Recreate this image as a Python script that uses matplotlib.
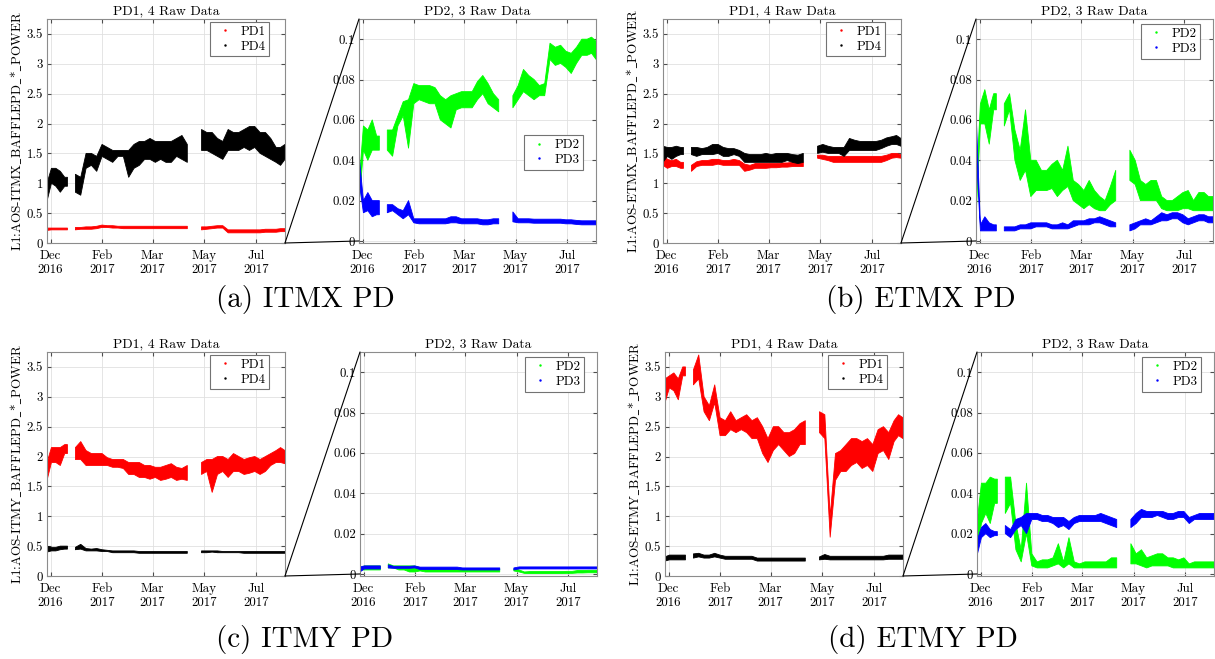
import numpy as np
import matplotlib
matplotlib.use("Agg")
import matplotlib.pyplot as plt
from matplotlib.lines import Line2D
from matplotlib.patches import ConnectionPatch
from matplotlib.ticker import FormatStrFormatter

plt.rcParams.update({
    'font.family': 'serif',
    'font.serif': ['cmr10'],
    'mathtext.fontset': 'cm',
    'axes.formatter.use_mathtext': True,
    'axes.unicode_minus': False,
})

nan = np.nan

# ---------- time grid (days since 30 Nov 2016), nan rows mark data gaps ----------
days = [0, 5, 10, 15, 20, 23, 27,
        32, 38, 44, 50, 56, 62, 68, 74, 80, 86, 92, 98, 104, 110, 116, 122, 128, 134, 140, 146, 152, 158,
        166,
        174, 180, 186, 192, 198, 204, 210, 216, 222, 228, 234, 240, 246, 252, 258, 263, 268]

tick_days = [4, 62, 119, 177, 235]
tick_labels = ['Dec\n2016', 'Feb\n2017', 'Mar\n2017', 'May\n2017', 'Jul\n2017']

# ---------- ITMX ----------
itmx_pd1_lo = [0.21, 0.22, 0.22, 0.22, 0.22, 0.22, nan,
               0.22, 0.23, 0.23, 0.23, 0.24, 0.26, 0.26, 0.25, 0.25, 0.24, 0.24, 0.24, 0.24, 0.24, 0.24, 0.24, 0.24, 0.24, 0.24, 0.24, 0.24, 0.24,
               nan,
               0.22, 0.23, 0.24, 0.25, 0.25, 0.17, 0.17, 0.17, 0.17, 0.17, 0.17, 0.17, 0.18, 0.18, 0.18, 0.19, 0.19]
itmx_pd1_hi = [0.25, 0.25, 0.25, 0.25, 0.25, 0.25, nan,
               0.26, 0.26, 0.27, 0.27, 0.28, 0.30, 0.29, 0.29, 0.28, 0.28, 0.28, 0.28, 0.28, 0.28, 0.28, 0.28, 0.28, 0.28, 0.28, 0.28, 0.28, 0.28,
               nan,
               0.27, 0.27, 0.28, 0.29, 0.29, 0.22, 0.22, 0.22, 0.22, 0.22, 0.22, 0.22, 0.23, 0.23, 0.23, 0.24, 0.24]
itmx_pd4_lo = [0.7, 1.0, 0.95, 0.85, 0.95, 0.95, nan,
               0.85, 0.8, 1.25, 1.3, 1.2, 1.45, 1.4, 1.35, 1.45, 1.45, 1.1, 1.25, 1.3, 1.4, 1.4, 1.35, 1.4, 1.35, 1.35, 1.45, 1.4, 1.35,
               nan,
               1.55, 1.55, 1.5, 1.45, 1.4, 1.55, 1.55, 1.55, 1.6, 1.55, 1.6, 1.5, 1.45, 1.4, 1.35, 1.3, 1.4]
itmx_pd4_hi = [1.0, 1.25, 1.25, 1.2, 1.1, 1.1, nan,
               1.15, 1.1, 1.5, 1.5, 1.45, 1.65, 1.6, 1.55, 1.55, 1.55, 1.55, 1.65, 1.7, 1.7, 1.75, 1.7, 1.7, 1.7, 1.7, 1.75, 1.8, 1.65,
               nan,
               1.9, 1.85, 1.85, 1.75, 1.7, 1.9, 1.85, 1.85, 1.9, 1.95, 1.95, 1.85, 1.85, 1.75, 1.6, 1.6, 1.65]
itmx_pd2_lo = [0.017, 0.045, 0.04, 0.045, 0.045, 0.045, nan,
               0.045, 0.042, 0.057, 0.062, 0.046, 0.068, 0.07, 0.069, 0.068, 0.068, 0.06, 0.058, 0.056, 0.065, 0.066, 0.066, 0.066, 0.07, 0.073, 0.068, 0.066, 0.064,
               nan,
               0.066, 0.07, 0.074, 0.072, 0.07, 0.072, 0.072, 0.09, 0.087, 0.088, 0.086, 0.083, 0.088, 0.092, 0.092, 0.093, 0.09]
itmx_pd2_hi = [0.028, 0.057, 0.055, 0.06, 0.052, 0.052, nan,
               0.055, 0.055, 0.062, 0.069, 0.07, 0.078, 0.077, 0.077, 0.077, 0.076, 0.072, 0.07, 0.072, 0.073, 0.074, 0.074, 0.074, 0.079, 0.082, 0.078, 0.073, 0.07,
               nan,
               0.072, 0.077, 0.085, 0.082, 0.08, 0.077, 0.078, 0.098, 0.096, 0.097, 0.094, 0.093, 0.096, 0.1, 0.1, 0.101, 0.099]
itmx_pd3_lo = [0.03, 0.014, 0.015, 0.012, 0.013, 0.013, nan,
               0.014, 0.015, 0.013, 0.011, 0.013, 0.009, 0.0085, 0.0085, 0.0085, 0.0085, 0.0085, 0.0085, 0.009, 0.009, 0.0085, 0.0085, 0.0085, 0.0085, 0.008, 0.008, 0.0085, 0.0085,
               nan,
               0.0095, 0.009, 0.009, 0.009, 0.0088, 0.0088, 0.0088, 0.0088, 0.0088, 0.0088, 0.0085, 0.0085, 0.0082, 0.008, 0.008, 0.008, 0.008]
itmx_pd3_hi = [0.043, 0.02, 0.024, 0.02, 0.02, 0.02, nan,
               0.018, 0.018, 0.016, 0.015, 0.02, 0.011, 0.011, 0.011, 0.011, 0.011, 0.011, 0.011, 0.012, 0.012, 0.011, 0.011, 0.011, 0.011, 0.0105, 0.0105, 0.011, 0.011,
               nan,
               0.0144, 0.011, 0.011, 0.011, 0.0108, 0.0108, 0.0108, 0.0108, 0.0108, 0.0108, 0.0105, 0.0105, 0.0102, 0.01, 0.01, 0.01, 0.01]

# ---------- ETMX ----------
etmx_pd1_lo = [1.3, 1.25, 1.28, 1.28, 1.25, 1.25, nan,
               1.2, 1.28, 1.3, 1.3, 1.3, 1.32, 1.3, 1.3, 1.3, 1.3, 1.2, 1.22, 1.25, 1.25, 1.25, 1.26, 1.26, 1.27, 1.27, 1.28, 1.28, 1.28,
               nan,
               1.42, 1.4, 1.38, 1.35, 1.35, 1.35, 1.35, 1.35, 1.35, 1.35, 1.35, 1.35, 1.35, 1.38, 1.42, 1.43, 1.42]
etmx_pd1_hi = [1.5, 1.4, 1.38, 1.4, 1.35, 1.35, nan,
               1.3, 1.36, 1.38, 1.38, 1.4, 1.4, 1.38, 1.38, 1.4, 1.38, 1.32, 1.3, 1.33, 1.33, 1.33, 1.33, 1.33, 1.34, 1.34, 1.35, 1.35, 1.35,
               nan,
               1.47, 1.47, 1.45, 1.45, 1.45, 1.45, 1.45, 1.45, 1.45, 1.45, 1.45, 1.45, 1.45, 1.47, 1.5, 1.5, 1.48]
etmx_pd4_lo = [1.35, 1.45, 1.4, 1.45, 1.48, 1.48, nan,
               1.48, 1.45, 1.48, 1.48, 1.48, 1.5, 1.45, 1.45, 1.48, 1.45, 1.35, 1.35, 1.35, 1.35, 1.35, 1.35, 1.35, 1.35, 1.38, 1.35, 1.33, 1.35,
               nan,
               1.5, 1.52, 1.5, 1.5, 1.5, 1.45, 1.55, 1.55, 1.55, 1.55, 1.55, 1.55, 1.58, 1.62, 1.65, 1.65, 1.62]
etmx_pd4_hi = [1.62, 1.6, 1.6, 1.62, 1.6, 1.6, nan,
               1.6, 1.6, 1.58, 1.6, 1.65, 1.65, 1.6, 1.58, 1.58, 1.55, 1.5, 1.48, 1.48, 1.48, 1.5, 1.48, 1.5, 1.5, 1.5, 1.48, 1.47, 1.5,
               nan,
               1.62, 1.65, 1.62, 1.6, 1.6, 1.6, 1.75, 1.72, 1.7, 1.7, 1.7, 1.7, 1.72, 1.76, 1.78, 1.8, 1.75]
etmx_pd2_lo = [0.011, 0.058, 0.058, 0.048, 0.065, 0.065, nan,
               0.057, 0.065, 0.04, 0.03, 0.035, 0.022, 0.025, 0.025, 0.025, 0.026, 0.022, 0.025, 0.027, 0.02, 0.018, 0.016, 0.018, 0.016, 0.015, 0.015, 0.018, 0.02,
               nan,
               0.03, 0.028, 0.02, 0.02, 0.02, 0.02, 0.016, 0.015, 0.015, 0.015, 0.016, 0.016, 0.015, 0.015, 0.015, 0.015, 0.015]
etmx_pd2_hi = [0.025, 0.068, 0.075, 0.065, 0.073, 0.073, nan,
               0.068, 0.073, 0.055, 0.045, 0.065, 0.04, 0.04, 0.035, 0.035, 0.038, 0.04, 0.035, 0.047, 0.03, 0.028, 0.025, 0.03, 0.025, 0.022, 0.02, 0.027, 0.035,
               nan,
               0.045, 0.04, 0.03, 0.028, 0.03, 0.03, 0.022, 0.02, 0.02, 0.022, 0.024, 0.025, 0.02, 0.024, 0.024, 0.022, 0.022]
etmx_pd3_lo = [0.046, 0.005, 0.005, 0.005, 0.005, 0.005, nan,
               0.005, 0.005, 0.005, 0.006, 0.006, 0.006, 0.007, 0.007, 0.007, 0.006, 0.006, 0.006, 0.006, 0.007, 0.008, 0.008, 0.008, 0.009, 0.009, 0.008, 0.007, 0.007,
               nan,
               0.005, 0.006, 0.008, 0.008, 0.008, 0.009, 0.01, 0.01, 0.011, 0.011, 0.009, 0.008, 0.009, 0.01, 0.01, 0.009, 0.009]
etmx_pd3_hi = [0.065, 0.008, 0.012, 0.009, 0.008, 0.008, nan,
               0.007, 0.007, 0.007, 0.008, 0.008, 0.009, 0.009, 0.009, 0.009, 0.008, 0.008, 0.009, 0.008, 0.01, 0.01, 0.01, 0.011, 0.011, 0.012, 0.011, 0.01, 0.009,
               nan,
               0.008, 0.009, 0.01, 0.011, 0.01, 0.012, 0.014, 0.013, 0.014, 0.014, 0.013, 0.011, 0.012, 0.013, 0.013, 0.012, 0.012]

# ---------- ITMY ----------
itmy_pd1_lo = [1.6, 1.9, 1.9, 1.85, 2.05, 2.05, nan,
               1.95, 1.95, 1.85, 1.85, 1.85, 1.85, 1.85, 1.82, 1.82, 1.8, 1.7, 1.7, 1.65, 1.65, 1.62, 1.65, 1.6, 1.62, 1.65, 1.6, 1.62, 1.6,
               nan,
               1.7, 1.75, 1.4, 1.7, 1.75, 1.65, 1.75, 1.75, 1.7, 1.72, 1.75, 1.7, 1.75, 1.85, 1.9, 1.9, 1.88]
itmy_pd1_hi = [1.9, 2.15, 2.15, 2.15, 2.2, 2.2, nan,
               2.15, 2.25, 2.1, 2.05, 2.05, 2.05, 1.98, 1.95, 1.95, 1.95, 1.9, 1.9, 1.9, 1.85, 1.85, 1.82, 1.82, 1.85, 1.88, 1.82, 1.8, 1.85,
               nan,
               1.9, 1.95, 1.95, 2.0, 2.0, 1.95, 2.05, 2.0, 1.95, 1.98, 2.0, 1.95, 2.0, 2.05, 2.1, 2.15, 2.1]
itmy_pd4_lo = [0.4, 0.42, 0.42, 0.44, 0.45, 0.45, nan,
               0.44, 0.45, 0.42, 0.42, 0.42, 0.41, 0.41, 0.39, 0.39, 0.39, 0.39, 0.39, 0.38, 0.38, 0.38, 0.38, 0.38, 0.38, 0.38, 0.38, 0.38, 0.38,
               nan,
               0.39, 0.39, 0.4, 0.39, 0.39, 0.39, 0.39, 0.39, 0.38, 0.38, 0.38, 0.38, 0.38, 0.38, 0.38, 0.38, 0.38]
itmy_pd4_hi = [0.5, 0.48, 0.48, 0.5, 0.5, 0.5, nan,
               0.48, 0.53, 0.46, 0.45, 0.46, 0.44, 0.43, 0.42, 0.42, 0.42, 0.42, 0.42, 0.41, 0.41, 0.41, 0.41, 0.41, 0.41, 0.41, 0.41, 0.41, 0.41,
               nan,
               0.42, 0.42, 0.42, 0.42, 0.41, 0.41, 0.41, 0.41, 0.41, 0.41, 0.41, 0.41, 0.41, 0.41, 0.41, 0.41, 0.41]
itmy_pd2_lo = [0.002, 0.002, 0.002, 0.002, 0.002, 0.002, nan,
               0.003, 0.003, 0.002, 0.002, 0.001, 0.001, 0.0015, 0.001, 0.001, 0.001, 0.001, 0.001, 0.001, 0.001, 0.001, 0.001, 0.001, 0.001, 0.001, 0.001, 0.001, 0.001,
               nan,
               0.0015, 0.001, 0.0003, 0.0002, 0.0002, 0.0002, 0.0002, 0.0002, 0.0002, 0.0002, 0.0003, 0.0003, 0.0005, 0.0005, 0.0006, 0.0006, 0.0006]
itmy_pd2_hi = [0.003, 0.004, 0.004, 0.004, 0.004, 0.004, nan,
               0.005, 0.004, 0.004, 0.004, 0.004, 0.004, 0.003, 0.0025, 0.0025, 0.0025, 0.0025, 0.0025, 0.0025, 0.0025, 0.0025, 0.0025, 0.0025, 0.0025, 0.0025, 0.0025, 0.0025, 0.0025,
               nan,
               0.0025, 0.002, 0.001, 0.0012, 0.0012, 0.0012, 0.0012, 0.0012, 0.0012, 0.0012, 0.0013, 0.0013, 0.0017, 0.0017, 0.0018, 0.0018, 0.0018]
itmy_pd3_lo = [0.001, 0.0025, 0.0025, 0.0025, 0.0025, 0.0025, nan,
               0.003, 0.0028, 0.0028, 0.0028, 0.0028, 0.003, 0.0022, 0.0022, 0.0022, 0.0022, 0.0022, 0.0022, 0.0022, 0.0022, 0.002, 0.002, 0.002, 0.002, 0.002, 0.002, 0.002, 0.002,
               nan,
               0.002, 0.0025, 0.0025, 0.0025, 0.0025, 0.0025, 0.0025, 0.0025, 0.0025, 0.0025, 0.0025, 0.0025, 0.0025, 0.0025, 0.0025, 0.0025, 0.0025]
itmy_pd3_hi = [0.0035, 0.004, 0.004, 0.004, 0.004, 0.004, nan,
               0.0045, 0.0038, 0.0038, 0.0038, 0.0038, 0.004, 0.0034, 0.0034, 0.0034, 0.0034, 0.0034, 0.0034, 0.0034, 0.0034, 0.003, 0.003, 0.003, 0.003, 0.003, 0.003, 0.003, 0.003,
               nan,
               0.003, 0.0035, 0.0035, 0.0035, 0.0035, 0.0035, 0.0035, 0.0035, 0.0035, 0.0035, 0.0035, 0.0035, 0.0035, 0.0035, 0.0035, 0.0035, 0.0035]

# ---------- ETMY ----------
etmy_pd1_lo = [2.9, 3.15, 3.1, 2.95, 3.35, 3.35, nan,
               3.2, 3.3, 2.75, 2.6, 2.9, 2.35, 2.35, 2.45, 2.4, 2.45, 2.4, 2.3, 2.3, 2.05, 1.9, 2.1, 2.2, 2.1, 2.0, 2.05, 2.2, 2.2,
               nan,
               2.4, 2.3, 0.65, 1.6, 1.75, 1.75, 1.85, 1.9, 1.8, 1.85, 1.75, 2.05, 2.1, 1.95, 2.25, 2.35, 2.3]
etmy_pd1_hi = [3.3, 3.35, 3.4, 3.3, 3.5, 3.5, nan,
               3.45, 3.7, 3.0, 2.85, 3.2, 2.65, 2.6, 2.75, 2.6, 2.65, 2.7, 2.6, 2.65, 2.5, 2.3, 2.5, 2.5, 2.4, 2.4, 2.45, 2.55, 2.6,
               nan,
               2.75, 2.7, 1.0, 2.05, 2.1, 2.2, 2.3, 2.3, 2.25, 2.3, 2.2, 2.45, 2.5, 2.4, 2.6, 2.7, 2.65]
etmy_pd4_lo = [0.25, 0.27, 0.27, 0.27, 0.27, 0.27, nan,
               0.3, 0.32, 0.3, 0.3, 0.32, 0.3, 0.28, 0.28, 0.28, 0.28, 0.28, 0.28, 0.25, 0.25, 0.25, 0.25, 0.25, 0.25, 0.25, 0.25, 0.25, 0.25,
               nan,
               0.27, 0.28, 0.27, 0.27, 0.27, 0.27, 0.27, 0.27, 0.27, 0.27, 0.27, 0.27, 0.27, 0.28, 0.28, 0.28, 0.28]
etmy_pd4_hi = [0.32, 0.35, 0.35, 0.35, 0.35, 0.35, nan,
               0.37, 0.38, 0.35, 0.35, 0.38, 0.35, 0.33, 0.33, 0.33, 0.33, 0.33, 0.33, 0.3, 0.3, 0.3, 0.3, 0.3, 0.3, 0.3, 0.3, 0.3, 0.3,
               nan,
               0.32, 0.36, 0.33, 0.33, 0.33, 0.33, 0.33, 0.33, 0.33, 0.33, 0.33, 0.33, 0.33, 0.35, 0.35, 0.35, 0.35]
etmy_pd2_lo = [0.012, 0.025, 0.03, 0.025, 0.035, 0.035, nan,
               0.03, 0.035, 0.012, 0.006, 0.02, 0.004, 0.003, 0.003, 0.003, 0.004, 0.005, 0.003, 0.005, 0.003, 0.003, 0.003, 0.003, 0.003, 0.003, 0.003, 0.003, 0.003,
               nan,
               0.005, 0.005, 0.004, 0.003, 0.004, 0.004, 0.004, 0.004, 0.003, 0.003, 0.003, 0.003, 0.003, 0.003, 0.003, 0.003, 0.003]
etmy_pd2_hi = [0.025, 0.045, 0.045, 0.048, 0.047, 0.047, nan,
               0.048, 0.048, 0.025, 0.012, 0.045, 0.01, 0.006, 0.007, 0.007, 0.008, 0.015, 0.006, 0.018, 0.006, 0.005, 0.006, 0.006, 0.006, 0.006, 0.006, 0.008, 0.008,
               nan,
               0.015, 0.01, 0.012, 0.008, 0.009, 0.01, 0.01, 0.008, 0.008, 0.007, 0.008, 0.005, 0.006, 0.006, 0.006, 0.006, 0.006]
etmy_pd3_lo = [0.009, 0.018, 0.02, 0.018, 0.019, 0.019, nan,
               0.02, 0.018, 0.022, 0.024, 0.02, 0.027, 0.027, 0.026, 0.026, 0.025, 0.023, 0.024, 0.022, 0.025, 0.026, 0.026, 0.026, 0.026, 0.026, 0.025, 0.024, 0.023,
               nan,
               0.023, 0.025, 0.028, 0.028, 0.028, 0.029, 0.028, 0.027, 0.027, 0.028, 0.028, 0.025, 0.027, 0.027, 0.027, 0.027, 0.027]
etmy_pd3_hi = [0.0165, 0.023, 0.025, 0.022, 0.021, 0.021, nan,
               0.024, 0.022, 0.027, 0.028, 0.03, 0.03, 0.03, 0.029, 0.029, 0.028, 0.028, 0.028, 0.026, 0.028, 0.029, 0.029, 0.029, 0.029, 0.03, 0.029, 0.028, 0.027,
               nan,
               0.027, 0.03, 0.032, 0.031, 0.031, 0.031, 0.031, 0.03, 0.03, 0.031, 0.031, 0.028, 0.029, 0.03, 0.03, 0.03, 0.03]

panels = [
    dict(name='ITMX', cap='(a) ITMX PD', row=0, xl=47, xr=359,
         pd1=(itmx_pd1_lo, itmx_pd1_hi), pd4=(itmx_pd4_lo, itmx_pd4_hi),
         pd2=(itmx_pd2_lo, itmx_pd2_hi), pd3=(itmx_pd3_lo, itmx_pd3_hi), leg2=(0.945, 0.482)),
    dict(name='ETMX', cap='(b) ETMX PD', row=0, xl=663, xr=976,
         pd1=(etmx_pd1_lo, etmx_pd1_hi), pd4=(etmx_pd4_lo, etmx_pd4_hi),
         pd2=(etmx_pd2_lo, etmx_pd2_hi), pd3=(etmx_pd3_lo, etmx_pd3_hi), leg2=(0.945, 0.978)),
    dict(name='ITMY', cap='(c) ITMY PD', row=1, xl=47, xr=360,
         pd1=(itmy_pd1_lo, itmy_pd1_hi), pd4=(itmy_pd4_lo, itmy_pd4_hi),
         pd2=(itmy_pd2_lo, itmy_pd2_hi), pd3=(itmy_pd3_lo, itmy_pd3_hi), leg2=(0.945, 0.978)),
    dict(name='ETMY', cap='(d) ETMY PD', row=1, xl=665, xr=977,
         pd1=(etmy_pd1_lo, etmy_pd1_hi), pd4=(etmy_pd4_lo, etmy_pd4_hi),
         pd2=(etmy_pd2_lo, etmy_pd2_hi), pd3=(etmy_pd3_lo, etmy_pd3_hi), leg2=(0.945, 0.978)),
]

W, H = 1215, 659
fig = plt.figure(figsize=(W / 100, H / 100), dpi=100)
t = np.array(days, dtype=float)


def style_axes(ax):
    ax.set_xlim(0, 268)
    ax.set_xticks(tick_days)
    ax.set_xticklabels(tick_labels, fontsize=9.3, linespacing=1.2)
    ax.tick_params(direction='in', length=3, top=True, right=True, labelsize=9.3,
                   color='0.3', pad=3)
    ax.tick_params(axis='x', pad=5)
    ax.grid(True, color='0.88', lw=0.6)
    ax.set_axisbelow(True)
    for s in ax.spines.values():
        s.set_color('0.55')
        s.set_linewidth(0.8)


def band(ax, lohi, color):
    lo = np.array(lohi[0], dtype=float)
    hi = np.array(lohi[1], dtype=float)
    assert len(lo) == len(t) and len(hi) == len(t)
    ax.fill_between(t, lo, hi, color=color, lw=0.6, edgecolor=color)


def dot_legend(ax, labels, colors, anchor):
    handles = [Line2D([], [], ls='none', marker='.', ms=1.5, color=c) for c in colors]
    leg = ax.legend(handles, labels, loc='upper right', bbox_to_anchor=anchor,
                    borderaxespad=0, fontsize=9.3, frameon=True, fancybox=False,
                    framealpha=1, edgecolor='0.45', handlelength=1.6,
                    handletextpad=0.4, borderpad=0.3, labelspacing=0.2)
    leg.get_frame().set_linewidth(0.8)


for p in panels:
    top = 19 if p['row'] == 0 else 352
    bottom = 1 - (top + 224) / H
    hgt = 224 / H
    axL = fig.add_axes([p['xl'] / W, bottom, 238 / W, hgt])
    axR = fig.add_axes([p['xr'] / W, bottom, 237 / W, hgt])

    band(axL, p['pd1'], 'red')
    band(axL, p['pd4'], 'black')
    axL.set_ylim(0, 3.75)
    axL.set_yticks([0, 0.5, 1, 1.5, 2, 2.5, 3, 3.5])
    axL.yaxis.set_major_formatter(FormatStrFormatter('%g'))
    style_axes(axL)
    axL.set_title('PD1, 4 Raw Data', fontsize=9.8, pad=3)
    axL.set_ylabel(r'L1:AOS-%s$\_$BAFFLEPD$\_$*$\_$POWER' % p['name'], fontsize=9.5, labelpad=2)
    dot_legend(axL, ['PD1', 'PD4'], ['red', 'black'], (0.933, 0.987))

    band(axR, p['pd2'], (0, 1, 0))
    band(axR, p['pd3'], (0, 0, 1))
    axR.set_ylim(-0.001, 0.11)
    axR.set_yticks([0, 0.02, 0.04, 0.06, 0.08, 0.1])
    axR.yaxis.set_major_formatter(FormatStrFormatter('%g'))
    style_axes(axR)
    axR.set_title('PD2, 3 Raw Data', fontsize=9.8, pad=3)
    dot_legend(axR, ['PD2', 'PD3'], [(0, 1, 0), (0, 0, 1)], p['leg2'])

    # zoom lines from the bottom-right corner of the left axes
    for yv in (0.11, 0.0):
        con = ConnectionPatch(xyA=(1, 0), coordsA=axL.transAxes,
                              xyB=(0, yv), coordsB=axR.transData,
                              color='black', lw=0.8)
        fig.add_artist(con)

    cx = (p['xl'] + 258) / W
    cy = 1 - (300 if p['row'] == 0 else 640) / H
    fig.text(cx, cy, p['cap'], fontsize=21, ha='center', va='center')

fig.savefig('out.png', dpi=100)
